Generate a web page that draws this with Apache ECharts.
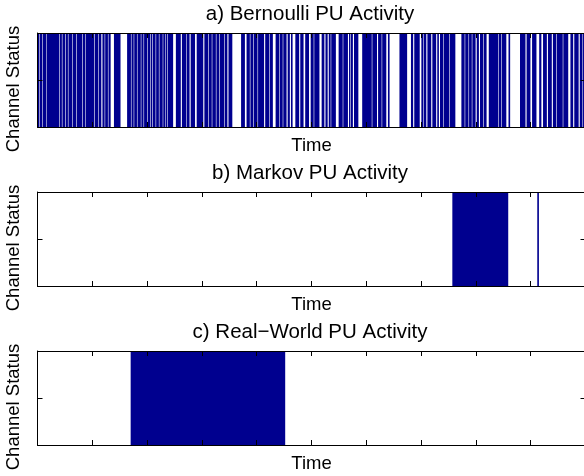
<!DOCTYPE html>
<html>
<head>
<meta charset="utf-8">
<title>PU Activity</title>
<script src="https://cdn.jsdelivr.net/npm/echarts@6/dist/echarts.min.js"></script>
<style>
  html, body { margin: 0; padding: 0; background: #fff; }
  #chart { width: 584px; height: 476px; }
</style>
</head>
<body>
<div id="chart"></div>
<script>
// Time slots 0..1000; each entry is a busy interval [start, end] of the channel.
var timeMin = 0;
var timeMax = 1000;
var timeStep = 100;

var panelTitles = ['a) Bernoulli PU Activity', 'b) Markov PU Activity', 'c) Real\u2212World PU Activity'];
var xAxisName = 'Time';
var yAxisName = 'Channel Status';

var bernoulliBusy = [
  [0,3.5],[4.5,9],[10,15.5],[16.5,39.5],[40.5,44.5],[45.5,50.5],[51.5,55.5],[56.5,63],[64,70.5],[71.5,81.5],
  [82.5,87.5],[88.5,103.5],[104.5,110.5],[111.5,116.5],[118.5,122.5],[123.5,128.5],[129.5,133.5],[139.5,151.5],[163.5,170.5],[171.5,175.5],
  [176.5,181.5],[182.5,188.5],[189.5,193.5],[194.5,200.5],[201.5,206],[207,209.5],[210.5,215.5],[216.5,221.5],[222.5,228.5],[229.5,233.5],
  [234.5,237],[238,247.5],[252.5,261.5],[263.5,271],[272,277.5],[279.5,287.5],[290.5,302.5],[304.5,311.5],[312.5,318],[319,325.5],
  [326.5,331.5],[332.5,340.5],[341.5,346.5],[348.5,355.5],[371.5,378.5],[381.5,387.5],[388.5,393.5],[394.5,401.5],[402.5,413.5],[415.5,422.5],
  [423.5,429.5],[434.5,441.5],[442.5,447.5],[448.5,454.5],[456.5,460.5],[462.5,465.5],[470.5,477.5],[479.5,485.5],[488.5,495.5],[498.5,504],
  [505,514.5],[518.5,523.5],[525.5,529.5],[531.5,535],[536,544.5],[549.5,557],[558,566.5],[568.5,571],[572,575.5],[577.5,585.5],
  [592.5,610],[611,619.5],[621.5,628],[629,636.5],[639.5,642.5],[660.5,674.5],[681.5,685.5],[687.5,697.5],[700.5,703.5],[704.5,709.5],
  [711.5,718.5],[720.5,727.5],[729.5,732.5],[734.5,740],[741,751.5],[752.5,762.5],[773.5,779.5],[780.5,786.5],[787.5,792.5],[793.5,799.5],
  [801.5,805.5],[807.5,813.5],[814.5,819.5],[823.5,840.5],[841.5,846.5],[847.5,855.5],[859.5,862.5],[880.5,890.5],[892.5,899.5],[902.5,910.5],
  [915.5,919.5],[922.5,929.5],[931.5,938.5],[940.5,946.5],[947.5,958.5],[959.5,968.5],[972.5,977.5],[979.5,987.5],[989.5,994.5],[995.5,1000]
];
var markovBusy = [[757,859],[912,915]];
var realWorldBusy = [[170,452]];

var panelData = [bernoulliBusy, markovBusy, realWorldBusy];

var BAR_COLOR = '#00008f';
var FONT = 'Liberation Sans, Arial, Helvetica, sans-serif';

// Plot frames (pixel layout)
var gridTops = [33, 192, 351];
var gridHeight = 94;
var gridLeft = 37.5;
var gridRight = -1.5;

function renderBusy(params, api) {
  var p0 = api.coord([api.value(0), 0]);
  var p1 = api.coord([api.value(1), 1]);
  return {
    type: 'rect',
    shape: { x: p0[0], y: p1[1], width: p1[0] - p0[0], height: p0[1] - p1[1] },
    style: { fill: BAR_COLOR }
  };
}

var grids = [], xAxes = [], yAxes = [], series = [], titles = [];
var lineStyle = { color: '#000', width: 1 };

for (var i = 0; i < 3; i++) {
  grids.push({
    left: gridLeft, right: gridRight, top: gridTops[i], height: gridHeight,
    outerBoundsMode: 'none', containLabel: false
  });

  titles.push({
    text: panelTitles[i],
    left: 305, top: gridTops[i] - 34, textAlign: 'center',
    textStyle: { fontFamily: FONT, fontSize: 20.5, fontWeight: 'normal', color: '#000' }
  });

  var xBase = {
    gridIndex: i, type: 'value', min: timeMin, max: timeMax, interval: timeStep,
    z: 5,
    axisLine: { show: true, onZero: false, lineStyle: lineStyle },
    axisTick: { show: true, inside: true, length: 5, lineStyle: lineStyle },
    axisLabel: { show: false },
    splitLine: { show: false }
  };
  xAxes.push(Object.assign({}, xBase, {
    position: 'bottom',
    name: xAxisName, nameLocation: 'middle', nameGap: 9,
    nameTextStyle: { fontFamily: FONT, fontSize: 18.5, color: '#000' }
  }));
  xAxes.push(Object.assign({}, xBase, { position: 'top' }));

  var yBase = {
    gridIndex: i, type: 'value', min: 0, max: 1, interval: 0.5,
    z: 5,
    axisLine: { show: true, onZero: false, lineStyle: lineStyle },
    axisTick: { show: true, inside: true, length: 5, lineStyle: lineStyle },
    axisLabel: { show: false },
    splitLine: { show: false }
  };
  yAxes.push(Object.assign({}, yBase, {
    position: 'left',
    name: yAxisName, nameLocation: 'middle', nameGap: 14, nameRotate: 90,
    nameTextStyle: { fontFamily: FONT, fontSize: 18.5, color: '#000', padding: [0, 18, 0, 0] }
  }));
  // right edge of the frame falls just outside the canvas; only its ticks show
  yAxes.push(Object.assign({}, yBase, {
    position: 'right',
    axisLine: { show: false, onZero: false }
  }));

  series.push({
    type: 'custom',
    xAxisIndex: i * 2,
    yAxisIndex: i * 2,
    renderItem: renderBusy,
    encode: { x: [0, 1] },
    data: panelData[i],
    silent: true,
    animation: false
  });
}

var chart = echarts.init(document.getElementById('chart'), null, { renderer: 'canvas' });
chart.setOption({
  animation: false,
  backgroundColor: '#fff',
  title: titles,
  grid: grids,
  xAxis: xAxes,
  yAxis: yAxes,
  series: series
});
</script>
</body>
</html>
